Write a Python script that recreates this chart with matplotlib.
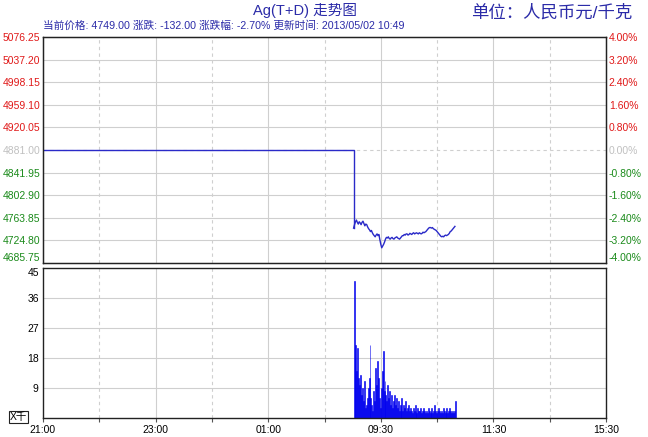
import numpy as np
import matplotlib
matplotlib.use("Agg")
import matplotlib.pyplot as plt

plt.rcParams['font.family'] = ['Liberation Sans', 'Noto Sans CJK SC', 'DejaVu Sans']

# ---- data ----
prev_close = 4881.00
y_ticks_price = [4685.75, 4724.80, 4763.85, 4802.90, 4841.95, 4881.00,
                 4920.05, 4959.10, 4998.15, 5037.20, 5076.25]
pct_ticks = [-4.0, -3.2, -2.4, -1.6, -0.8, 0.0, 0.8, 1.6, 2.4, 3.2, 4.0]
x_tick_labels = ["21:00", "", "23:00", "", "01:00", "", "09:30", "", "11:30", "", "15:30"]
vol_ticks = [9, 18, 27, 36, 45]

night_minutes = [0, 330]          # no trading overnight, flat at previous close
day_start = 331                   # 09:01

prices = [4746, 4752, 4757, 4760, 4756, 4753, 4757, 4755, 4752, 4756,
          4758, 4754, 4750, 4753, 4752, 4748, 4745, 4743, 4740, 4742,
          4738, 4735, 4733, 4731, 4734, 4736, 4733, 4735, 4726, 4718,
          4712, 4715, 4718, 4722, 4727, 4730, 4729, 4731, 4728, 4727,
          4729, 4730, 4728, 4727, 4729, 4730, 4731, 4729, 4728, 4727,
          4729, 4731, 4733, 4733, 4735, 4734, 4736, 4736, 4734, 4735,
          4737, 4736, 4735, 4737, 4738, 4736, 4737, 4738, 4737, 4736,
          4738, 4737, 4736, 4737, 4739, 4738, 4739, 4740, 4742, 4744,
          4746, 4747, 4747, 4746, 4747, 4745, 4744, 4743, 4742, 4740,
          4738, 4736, 4734, 4732, 4731, 4732, 4731, 4733, 4734, 4733,
          4734, 4735, 4737, 4740, 4741, 4743, 4745, 4747, 4749]

volumes = [41, 18, 22, 14, 21, 12, 10, 13, 7, 9,
           5, 11, 3, 4, 6, 9, 12, 22, 6, 4,
           2, 8, 5, 15, 10, 17, 12, 6, 3, 9,
           14, 20, 8, 11, 7, 5, 10, 6, 8, 4,
           7, 3, 5, 7, 4, 6, 3, 5, 2, 4,
           3, 6, 2, 4, 3, 5, 2, 3, 4, 2,
           3, 2, 1.5, 3, 2, 4, 2, 1.5, 3, 2,
           2, 3, 1.5, 2, 3, 2, 1.5, 2, 1.5, 3,
           2, 1.5, 2, 3, 1.5, 2, 4, 2, 1.5, 2,
           3, 2, 1.5, 2, 1.5, 3, 2, 1.5, 2, 3,
           1.5, 2, 3, 2, 1.5, 2, 1.5, 2, 5]

minutes = np.arange(day_start, day_start + len(prices))

line_blue = "#2a2ac8"
text_blue = "#2b2ba8"
red = "#e01818"
green = "#1a8a1a"
grid_c = "#cfcfcf"

fig = plt.figure(figsize=(6.48, 4.37), dpi=100)
fig.patch.set_facecolor("white")

ax1 = fig.add_axes([43/648, 1 - 263/437, 563/648, 226/437])
ax2 = fig.add_axes([43/648, 1 - 418/437, 563/648, 150/437])

for ax in (ax1, ax2):
    ax.set_xlim(0, 600)
    ax.set_xticks(np.arange(0, 601, 60))
    for i, xv in enumerate(np.arange(60, 600, 60)):
        if (i + 1) % 2 == 0:
            ax.axvline(xv, color=grid_c, lw=0.8, zorder=0)
        else:
            ax.axvline(xv, color=grid_c, lw=0.8, ls=(0, (3, 3)), zorder=0)
    for s in ax.spines.values():
        s.set_color("#222222")
        s.set_linewidth(1.0)

# ---- price panel ----
ax1.set_ylim(y_ticks_price[0], y_ticks_price[-1])
ax1.set_yticks(y_ticks_price)
ax1.set_yticklabels(["%.2f" % v for v in y_ticks_price], fontsize=7.5)
for v in y_ticks_price[1:-1]:
    if v == prev_close:
        ax1.axhline(v, color=grid_c, lw=0.8, ls=(0, (3, 3)), zorder=0)
    else:
        ax1.axhline(v, color=grid_c, lw=0.8, zorder=0)
ax1.tick_params(axis="y", length=0, pad=2)
ax1.tick_params(axis="x", length=0, labelbottom=False)
for lab, v in zip(ax1.get_yticklabels(), y_ticks_price):
    lab.set_color(red if v > prev_close else (green if v < prev_close else "#c0c0c0"))
ax1.get_yticklabels()[0].set_va("bottom")

ax1.plot(night_minutes + [day_start], [prev_close, prev_close, prices[0]],
         color=line_blue, lw=1.0, drawstyle="steps-post")
ax1.plot(minutes, prices, color=line_blue, lw=1.0)

ax1r = ax1.twinx()
ax1r.set_ylim(pct_ticks[0], pct_ticks[-1])
ax1r.set_yticks(pct_ticks)
ax1r.set_yticklabels(["%.2f%%" % v for v in pct_ticks], fontsize=7.5)
ax1r.tick_params(axis="y", length=0, pad=2)
for lab, v in zip(ax1r.get_yticklabels(), pct_ticks):
    lab.set_color(red if v > 0 else (green if v < 0 else "#c0c0c0"))
ax1r.get_yticklabels()[0].set_va("bottom")
for s in ax1r.spines.values():
    s.set_color("#222222")

# ---- volume panel ----
ax2.bar(minutes, volumes, width=1.0, align="edge", color="#0000ee",
        edgecolor="#0000ee", lw=0.4)
ax2.set_ylim(0, 45)
ax2.set_yticks(vol_ticks)
ax2.set_yticklabels([str(v) for v in vol_ticks], fontsize=7.5)
for v in vol_ticks[:-1]:
    ax2.axhline(v, color=grid_c, lw=0.8, zorder=0)
ax2.tick_params(axis="y", length=0, pad=3)
ax2.get_yticklabels()[-1].set_va("top")
ax2.set_xticklabels(x_tick_labels, fontsize=7.5)
ax2.tick_params(axis="x", length=3, color="#555555", pad=2)
ax2.set_axisbelow(True)

fig.text(10/648, 1 - 417/437, "X千", fontsize=7.5, ha="left", va="center",
         bbox=dict(boxstyle="square,pad=0.1", fc="white", ec="#222222", lw=0.8))

# ---- header texts ----
fig.text(305/648, 1 - 10/437, "Ag(T+D) 走势图", fontsize=10.5, color=text_blue,
         ha="center", va="center")
fig.text(632/648, 1 - 12/437, "单位：人民币元/千克", fontsize=12.5, color=text_blue,
         ha="right", va="center")
fig.text(43/648, 1 - 26/437,
         "当前价格: 4749.00 涨跌: -132.00 涨跌幅: -2.70% 更新时间: 2013/05/02 10:49",
         fontsize=7.7, color=text_blue, ha="left", va="center")

fig.savefig("out.png", dpi=100, facecolor=fig.get_facecolor())
